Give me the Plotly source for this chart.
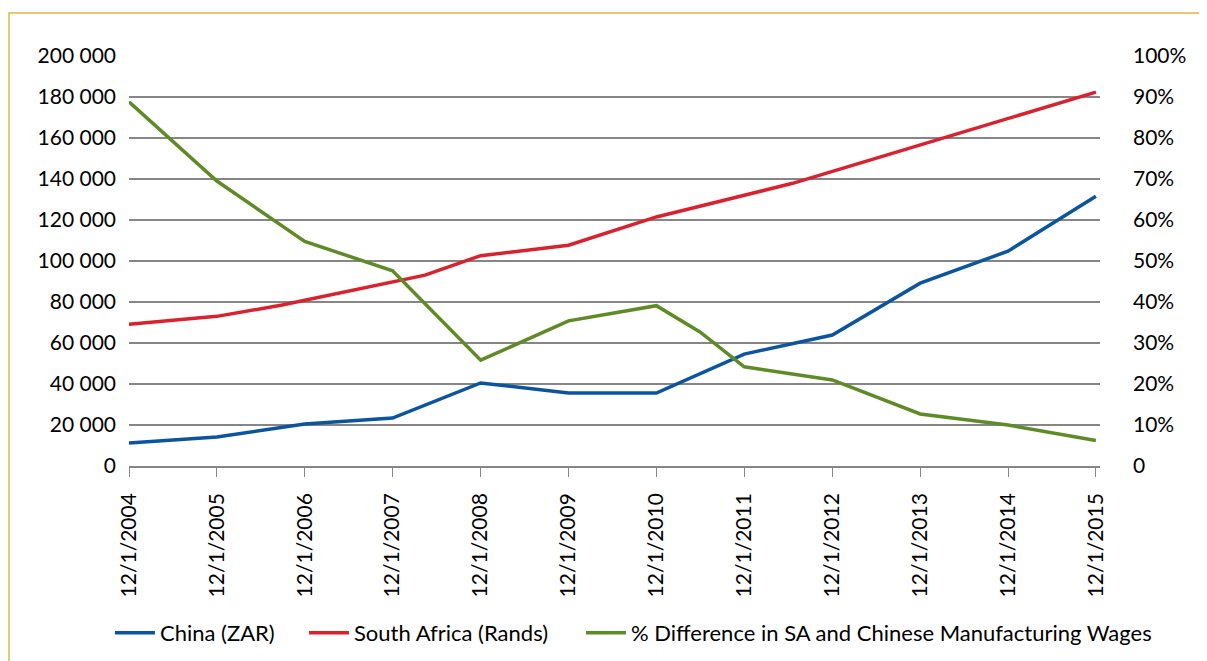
import plotly.graph_objects as go

# ---- data ----
year_dates = ["2004-12-01", "2005-12-01", "2006-12-01", "2007-12-01", "2008-12-01", "2009-12-01",
              "2010-12-01", "2011-12-01", "2012-12-01", "2013-12-01", "2014-12-01", "2015-12-01"]
tick_labels = ["12/1/2004", "12/1/2005", "12/1/2006", "12/1/2007", "12/1/2008", "12/1/2009",
               "12/1/2010", "12/1/2011", "12/1/2012", "12/1/2013", "12/1/2014", "12/1/2015"]

china_dates = year_dates
china_zar = [11200, 14100, 20500, 23400, 40500, 35600, 35600, 54600, 63900, 89200, 104800, 131600]

sa_dates = ["2004-12-01", "2005-12-01", "2006-08-29", "2008-04-14", "2008-12-01", "2009-12-01",
            "2010-12-01", "2012-06-19", "2015-12-01"]
sa_rands = [69200, 73000, 78500, 93100, 102600, 107700, 121500, 137900, 182400]

diff_dates = ["2004-12-01", "2005-12-01", "2006-12-01", "2007-12-01", "2008-12-01", "2009-12-01",
              "2010-12-01", "2011-05-31", "2011-12-01", "2012-12-01", "2013-12-01", "2014-12-01",
              "2015-12-01"]
diff_pct = [88.8, 69.5, 54.8, 47.6, 25.8, 35.4, 39.1, 32.7, 24.2, 21.0, 12.7, 10.0, 6.2]

left_ticks = [0, 20000, 40000, 60000, 80000, 100000, 120000, 140000, 160000, 180000, 200000]
left_labels = ["0", "20 000", "40 000", "60 000", "80 000", "100 000", "120 000", "140 000",
               "160 000", "180 000", "200 000"]
right_ticks = [0, 10, 20, 30, 40, 50, 60, 70, 80, 90, 100]
right_labels = ["0", "10%", "20%", "30%", "40%", "50%", "60%", "70%", "80%", "90%", "100%"]

names = ["China (ZAR)", "South Africa (Rands)", "% Difference in SA and Chinese Manufacturing Wages"]
colors = ["#0B55A0", "#D9222D", "#5F8B27"]

FONT = "Lato"
GRID = "#868686"
TICK_SIZE = 21
LEG_SIZE = 22

fig = go.Figure()
fig.add_trace(go.Scatter(x=china_dates, y=china_zar, name=names[0], mode="lines", legend="legend",
                         line=dict(color=colors[0], width=3.5)))
fig.add_trace(go.Scatter(x=sa_dates, y=sa_rands, name=names[1], mode="lines", legend="legend2",
                         line=dict(color=colors[1], width=3.5)))
fig.add_trace(go.Scatter(x=diff_dates, y=diff_pct, name=names[2], mode="lines", yaxis="y2",
                         legend="legend3", line=dict(color=colors[2], width=3.5)))


def leg(x):
    return dict(orientation="h", x=x, xanchor="left", y=-0.407, yanchor="middle",
                font=dict(size=LEG_SIZE), itemwidth=40, bgcolor="rgba(0,0,0,0)")


fig.update_layout(
    width=1207, height=661,
    margin=dict(l=121, r=115, t=48, b=203, autoexpand=False),
    paper_bgcolor="white", plot_bgcolor="white",
    font=dict(family=FONT, size=TICK_SIZE, color="#000000"),
    showlegend=True,
    legend=leg(-0.0196),
    legend2=leg(0.1802),
    legend3=leg(0.4655),
    xaxis=dict(type="date", range=["2004-12-01", "2015-12-18"], automargin=False,
               tickmode="array", tickvals=year_dates, ticktext=tick_labels,
               tickangle=-90, ticks="outside", ticklen=9, tickcolor=GRID, tickwidth=1,
               showline=True, linecolor=GRID, linewidth=1.5, showgrid=False,
               ticklabelstandoff=8, tickfont=dict(size=TICK_SIZE)),
    yaxis=dict(range=[0, 200000], tickmode="array", tickvals=left_ticks, ticktext=left_labels,
               showgrid=True, gridcolor=GRID, gridwidth=1.5, zeroline=False, showline=False,
               automargin=False,
               ticks="", ticklabelstandoff=12, tickfont=dict(size=TICK_SIZE)),
    yaxis2=dict(range=[0, 100], overlaying="y", side="right", tickmode="array",
                tickvals=right_ticks, ticktext=right_labels, showgrid=False, zeroline=False,
                showline=False, automargin=False,
                ticks="", ticklabelstandoff=32, tickfont=dict(size=TICK_SIZE)),
    shapes=[dict(type="rect", xref="paper", yref="paper", x0=-0.1236, x1=1.3, y0=-0.8, y1=1.105,
                 line=dict(color="#E2B548", width=1.5), fillcolor="rgba(0,0,0,0)", layer="below")],
)

fig.write_html("out.html")
